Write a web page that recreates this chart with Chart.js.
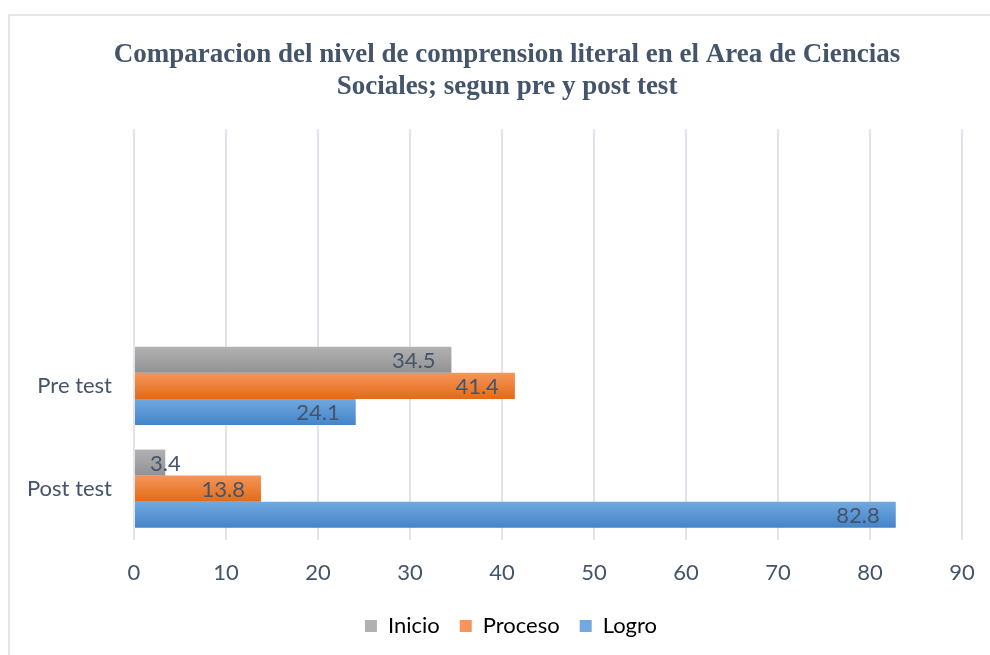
<!DOCTYPE html>
<html><head><meta charset="utf-8">
<script src="https://cdn.jsdelivr.net/npm/chart.js@4.4.1/dist/chart.umd.min.js"></script>
<style>
html,body{margin:0;padding:0;background:#fff;overflow:hidden}
#wrap{position:relative;width:990px;height:655px}
#frame{position:absolute;left:8px;top:14px;right:-4px;bottom:-4px;border-top:2px solid #e2e5ea;border-left:2px solid #e2e5ea;pointer-events:none}
canvas{position:absolute;left:0;top:0}
</style></head><body>
<div id="wrap"><canvas id="c" width="990" height="655"></canvas><div id="frame"></div></div>
<script>
const categories = ['', '', 'Pre test', 'Post test'];
const inicio  = [null, null, 34.5, 3.4];
const proceso = [null, null, 41.4, 13.8];
const logro   = [null, null, 24.1, 82.8];
const seriesNames = ['Inicio', 'Proceso', 'Logro'];
const xTicks = [0, 10, 20, 30, 40, 50, 60, 70, 80, 90];
const titleLines = ['Comparacion del nivel de comprension literal en el Area de Ciencias', 'Sociales; segun pre y post test'];

const gradColors = [
  ['#b1b1b1', '#929292'],
  ['#f5955a', '#e36b16'],
  ['#71a9e0', '#4484c8']
];
const CAT_PCT = 0.76;
const textColor = '#44546a';
const labelFont = 'Lato, "Open Sans", sans-serif';
const FS = 22;

function gradFor(dsIndex) {
  return (c) => {
    const chart = c.chart;
    const ys = chart.scales.y;
    if (!ys || c.dataIndex == null) return gradColors[dsIndex][0];
    const band = Math.abs(ys.getPixelForValue(1) - ys.getPixelForValue(0));
    const center = ys.getPixelForValue(c.dataIndex);
    const groupH = band * CAT_PCT;
    const barH = groupH / 3;
    const top = center - groupH / 2 + dsIndex * barH;
    const g = chart.ctx.createLinearGradient(0, top, 0, top + barH);
    g.addColorStop(0, gradColors[dsIndex][0]);
    g.addColorStop(1, gradColors[dsIndex][1]);
    return g;
  };
}

const titlePlugin = {
  id: 'titleText',
  afterLayout(chart) {
    if (chart.legend) chart.legend.left = 60;
  },
  afterDraw(chart) {
    const ctx = chart.ctx;
    ctx.save();
    ctx.font = 'bold 27px "Liberation Serif", "Times New Roman", serif';
    ctx.fillStyle = textColor;
    ctx.textAlign = 'center';
    ctx.textBaseline = 'middle';
    titleLines.forEach((t, i) => ctx.fillText(t, 507, 55 + i * 32));
    ctx.restore();
  }
};

const valueLabels = {
  id: 'valueLabels',
  afterDatasetsDraw(chart) {
    const ctx = chart.ctx;
    ctx.save();
    ctx.font = FS + 'px ' + labelFont;
    ctx.fillStyle = textColor;
    ctx.textAlign = 'right';
    ctx.textBaseline = 'middle';
    chart.data.datasets.forEach((ds, i) => {
      const meta = chart.getDatasetMeta(i);
      meta.data.forEach((el, j) => {
        const v = ds.data[j];
        if (v == null) return;
        const p = el.getProps(['x', 'y', 'base'], true);
        const txt = v.toFixed(1);
        const w = ctx.measureText(txt).width;
        const right = Math.max(p.x - 16, p.base + 15 + w);
        ctx.fillText(txt, right, p.y + 1);
      });
    });
    ctx.restore();
  }
};

new Chart(document.getElementById('c'), {
  type: 'bar',
  data: {
    labels: categories,
    datasets: [
      { label: seriesNames[0], data: inicio,  backgroundColor: gradFor(0), borderWidth: 0 },
      { label: seriesNames[1], data: proceso, backgroundColor: gradFor(1), borderWidth: 0 },
      { label: seriesNames[2], data: logro,   backgroundColor: gradFor(2), borderWidth: 0 }
    ]
  },
  options: {
    indexAxis: 'y',
    responsive: false,
    animation: false,
    events: [],
    datasets: { bar: { categoryPercentage: CAT_PCT, barPercentage: 1 } },
    layout: { padding: { left: 0, right: 28, top: 129, bottom: 8 } },
    plugins: {
      title: { display: false },
      legend: {
        display: true,
        position: 'bottom',
        labels: {
          color: textColor,
          font: { family: labelFont, size: FS },
          boxWidth: 12, boxHeight: 12, padding: 20,
          generateLabels(chart) {
            return chart.data.datasets.map((ds, i) => ({
              text: ds.label, fillStyle: gradColors[i][0], strokeStyle: 'transparent', lineWidth: 0, datasetIndex: i, hidden: false
            }));
          }
        }
      },
      tooltip: { enabled: false }
    },
    scales: {
      x: {
        min: 0, max: 90,
        afterBuildTicks(scale) { scale.ticks = xTicks.map(v => ({ value: v })); },
        grid: { color: '#e1e4ea', lineWidth: 2, drawTicks: false },
        border: { display: false },
        ticks: { color: textColor, font: { family: labelFont, size: FS }, padding: 20 },
        afterFit(scale) { scale.height = 55; scale.paddingRight = 0; scale.paddingLeft = 0; }
      },
      y: {
        grid: { display: false, drawTicks: false },
        border: { display: false },
        ticks: { color: textColor, font: { family: labelFont, size: FS }, padding: 22 },
        afterFit(scale) { scale.width = 134; }
      }
    }
  },
  plugins: [valueLabels, titlePlugin]
});
</script>
</body></html>
